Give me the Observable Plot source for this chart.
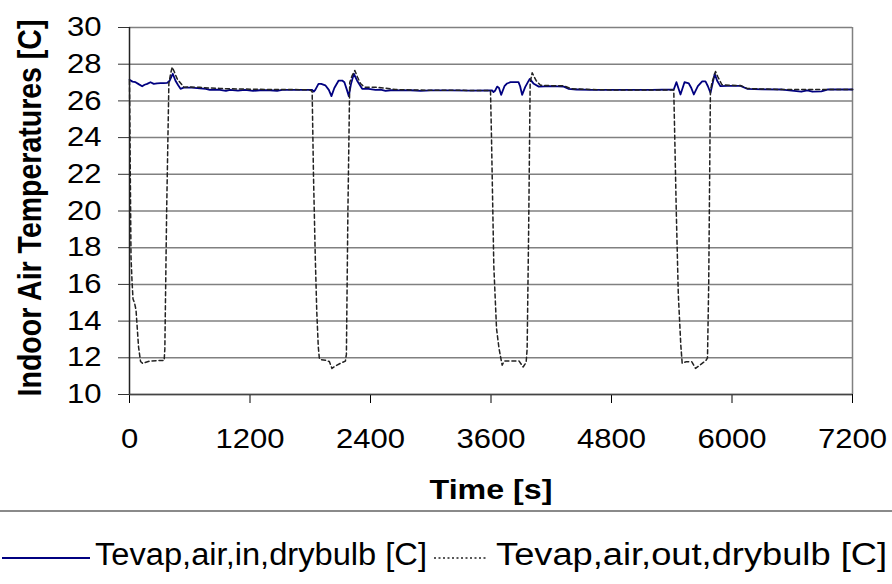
<!DOCTYPE html>
<html>
<head>
<meta charset="utf-8">
<script src="https://cdn.jsdelivr.net/npm/d3@7"></script>
<script src="https://cdn.jsdelivr.net/npm/@observablehq/plot@0.6"></script>
<style>
  body { margin: 0; background: #fff; font-family: "Liberation Sans", Arial, sans-serif; }
  #wrap { width: 892px; height: 584px; position: relative; overflow: hidden; background: #fff; }
  #chart { position: absolute; left: 0; top: 0; }
  #legend { position: absolute; left: 0; top: 510px; width: 892px; height: 72px; border-top: 2px solid #8a8a8a; }
  .sw { position: absolute; top: 41px; }
  .lab { position: absolute; top: 27px; line-height: 32px; font-size: 31px; color: #000; transform-origin: left center; white-space: nowrap; }
</style>
</head>
<body>
<div id="wrap">
  <div id="chart"></div>
  <div id="legend"></div>
</div>
<script>
// ---- data ----
const xTicks = [0, 1200, 2400, 3600, 4800, 6000, 7200];
const yTicks = [10, 12, 14, 16, 18, 20, 22, 24, 26, 28, 30];
const seriesNames = ["Tevap,air,in,drybulb [C]", "Tevap,air,out,drybulb [C]"];
const xTitle = "Time [s]";
const yTitle = "Indoor Air Temperatures [C]";

// [time s, temperature C]
const evapIn = [
  [0,27.15],[30,27.05],[60,27.02],[95,26.9],[126,26.8],[150,26.88],[176,26.93],[209,27.02],[242,26.93],
  [275,26.96],[309,26.97],[340,26.97],[375,26.98],[400,27.1],[431,27.48],[458,27.1],[485,26.85],[508,26.66],
  [540,26.72],[620,26.72],[700,26.68],[760,26.66],[800,26.6],[850,26.62],[900,26.6],[960,26.55],[1000,26.6],
  [1080,26.56],[1150,26.6],[1230,26.55],[1300,26.58],[1400,26.58],[1470,26.55],[1520,26.6],[1600,26.6],
  [1700,26.6],[1800,26.6],
  [1819,26.6],[1835,26.51],[1850,26.6],[1882,26.93],[1909,26.93],[1950,26.85],[1985,26.6],[2011,26.26],
  [2040,26.7],[2083,27.11],[2118,27.11],[2140,27.02],[2165,26.6],[2184,26.26],[2205,26.9],[2234,27.48],
  [2267,27.1],[2317,26.66],[2380,26.65],[2450,26.6],[2500,26.62],[2550,26.55],[2600,26.58],[2700,26.57],
  [2800,26.58],[2900,26.55],[3000,26.57],[3200,26.57],[3400,26.56],[3611,26.57],
  [3625,26.48],[3640,26.55],[3661,26.78],[3680,26.7],[3701,26.33],[3734,26.8],[3760,26.95],[3794,27.02],
  [3874,27.02],[3890,26.8],[3910,26.33],[3940,26.75],[3970,27.05],[3986,27.2],[4026,26.93],[4076,26.78],
  [4200,26.8],[4325,26.78],[4370,26.66],[4450,26.62],[4600,26.6],[4800,26.6],[5000,26.6],[5200,26.6],
  [5420,26.62],
  [5447,27.02],[5487,26.35],[5527,27.02],[5570,26.95],[5595,26.7],[5620,26.35],[5660,26.8],[5703,27.06],
  [5736,27.06],[5760,26.8],[5786,26.44],[5805,26.9],[5828,27.48],[5852,27.1],[5885,26.8],[5950,26.82],
  [6085,26.82],[6150,26.66],[6300,26.63],[6500,26.62],[6690,26.5],[6750,26.57],[6800,26.5],[6890,26.52],
  [6950,26.62],[7200,26.62]
];

const evapOut = [
  [0,27.1],[8,22],[15,17.5],[25,16.2],[35,15.2],[50,15.0],[65,14.6],[90,12.6],[110,11.8],[130,11.7],
  [200,11.82],[280,11.85],[345,11.85],[352,12.5],[370,20],[392,26.95],[410,27.5],[425,27.84],[445,27.6],
  [475,27.2],[541,26.75],[600,26.76],[700,26.74],[800,26.7],[900,26.68],[1000,26.66],[1200,26.64],
  [1400,26.62],[1600,26.62],[1800,26.6],
  [1819,26.5],[1832,22],[1850,17.5],[1865,14.5],[1880,12.6],[1890,12.0],[1900,11.9],[1950,11.87],
  [1990,11.8],[2016,11.42],[2050,11.55],[2100,11.7],[2150,11.82],[2160,12.2],[2175,20],[2193,27.0],
  [2215,27.35],[2244,27.66],[2270,27.3],[2300,26.95],[2340,26.75],[2450,26.74],[2550,26.7],[2650,26.62],
  [2800,26.6],[3000,26.58],[3200,26.58],[3400,26.57],[3595,26.57],
  [3605,24],[3628,17],[3655,13.6],[3680,12.5],[3711,11.6],[3730,11.82],[3800,11.82],[3880,11.82],
  [3920,11.5],[3950,11.75],[3960,12.5],[3975,19],[3990,27.0],[4010,27.53],[4050,27.1],[4093,26.85],
  [4200,26.83],[4325,26.82],[4400,26.66],[4600,26.62],[4800,26.6],[5000,26.6],[5200,26.6],[5420,26.6],
  [5430,24],[5445,20],[5465,15.5],[5490,12.7],[5504,11.7],[5540,11.78],[5600,11.78],[5637,11.42],
  [5680,11.6],[5740,11.85],[5756,12.0],[5768,16],[5785,26.5],[5800,27.0],[5836,27.6],[5860,27.3],
  [5900,26.88],[6000,26.85],[6085,26.84],[6150,26.68],[6300,26.65],[6500,26.62],[6700,26.62],
  [6900,26.62],[7100,26.62],[7200,26.62]
];

const colors = ["#000080", "#222222"];

const chart = Plot.plot({
  width: 892,
  height: 510,
  marginLeft: 129,
  marginRight: 40,
  marginTop: 27,
  marginBottom: 116,
  style: { fontFamily: "Liberation Sans, Arial, sans-serif", fontSize: "27px", background: "#fff", color: "#000", overflow: "visible" },
  x: { domain: [0, 7200], ticks: xTicks },
  y: { domain: [10, 30], ticks: yTicks },
  marks: [
    Plot.gridY(yTicks, { stroke: "#808080", strokeOpacity: 1, strokeWidth: 1.5 }),
    Plot.ruleX([7200], { stroke: "#808080", strokeWidth: 1.5 }),
    Plot.line(evapIn, { x: d => d[0], y: d => d[1], stroke: colors[0], strokeWidth: 1.8 }),
    Plot.line(evapOut, { x: d => d[0], y: d => d[1], stroke: colors[1], strokeWidth: 1.5, strokeDasharray: "4,3" }),
    Plot.axisY({ ticks: yTicks, tickSize: 11, tickPadding: 17, label: null, fontSize: 27, stroke: "#333" }),
    Plot.axisX({ ticks: xTicks, tickSize: 9, tickPadding: 25, label: null, fontSize: 27, tickFormat: d3.format("d") }),
    Plot.ruleX([0], { stroke: "#222", strokeWidth: 1.5 }),
    Plot.ruleY([10], { stroke: "#444", strokeWidth: 1.5 }),
    Plot.text([yTitle], { frameAnchor: "left", dx: -99, dy: -3, rotate: -90, textAnchor: "middle", lineAnchor: "middle", fontWeight: "bold", fontSize: 28.5 }),
    Plot.text([xTitle], { frameAnchor: "bottom", dy: 104, textAnchor: "middle", fontWeight: "bold", fontSize: 28 })
  ]
});

// horizontal stretch of all texts (reference glyphs are wide)
chart.querySelectorAll("text").forEach(t => {
  const tr = t.getAttribute("transform");
  if (tr && /translate\([^)]*\)/.test(tr)) {
    t.setAttribute("transform", tr.replace(/(translate\([^)]*\))/, "$1 scale(1.15,1)"));
  } else {
    const x = +(t.getAttribute("x") || 0), y = +(t.getAttribute("y") || 0);
    t.removeAttribute("x"); t.removeAttribute("y");
    t.setAttribute("transform", `translate(${x},${y}) scale(1.15,1)` + (tr ? " " + tr : ""));
  }
});
document.getElementById("chart").appendChild(chart);

// legend (swatch span and text extent as in the reference)
const legend = document.getElementById("legend");
const items = [
  { swX: 2, swW: 88, dash: null, w: 1.8, textX: 95, textW: 332 },
  { swX: 434, swW: 52, dash: "2,2.5", w: 1.6, textX: 496, textW: 391 }
];
items.forEach((it, i) => {
  const svg = d3.create("svg").attr("class", "sw").attr("width", it.swW).attr("height", 10)
    .style("left", it.swX + "px");
  svg.append("line").attr("x1", 0).attr("x2", it.swW).attr("y1", 5).attr("y2", 5)
    .attr("stroke", colors[i]).attr("stroke-width", it.w).attr("stroke-dasharray", it.dash);
  legend.appendChild(svg.node());
  const span = document.createElement("span");
  span.className = "lab";
  span.textContent = seriesNames[i];
  span.style.left = it.textX + "px";
  legend.appendChild(span);
  const natural = span.getBoundingClientRect().width;
  span.style.transform = `scaleX(${it.textW / natural})`;
});
</script>
</body>
</html>
